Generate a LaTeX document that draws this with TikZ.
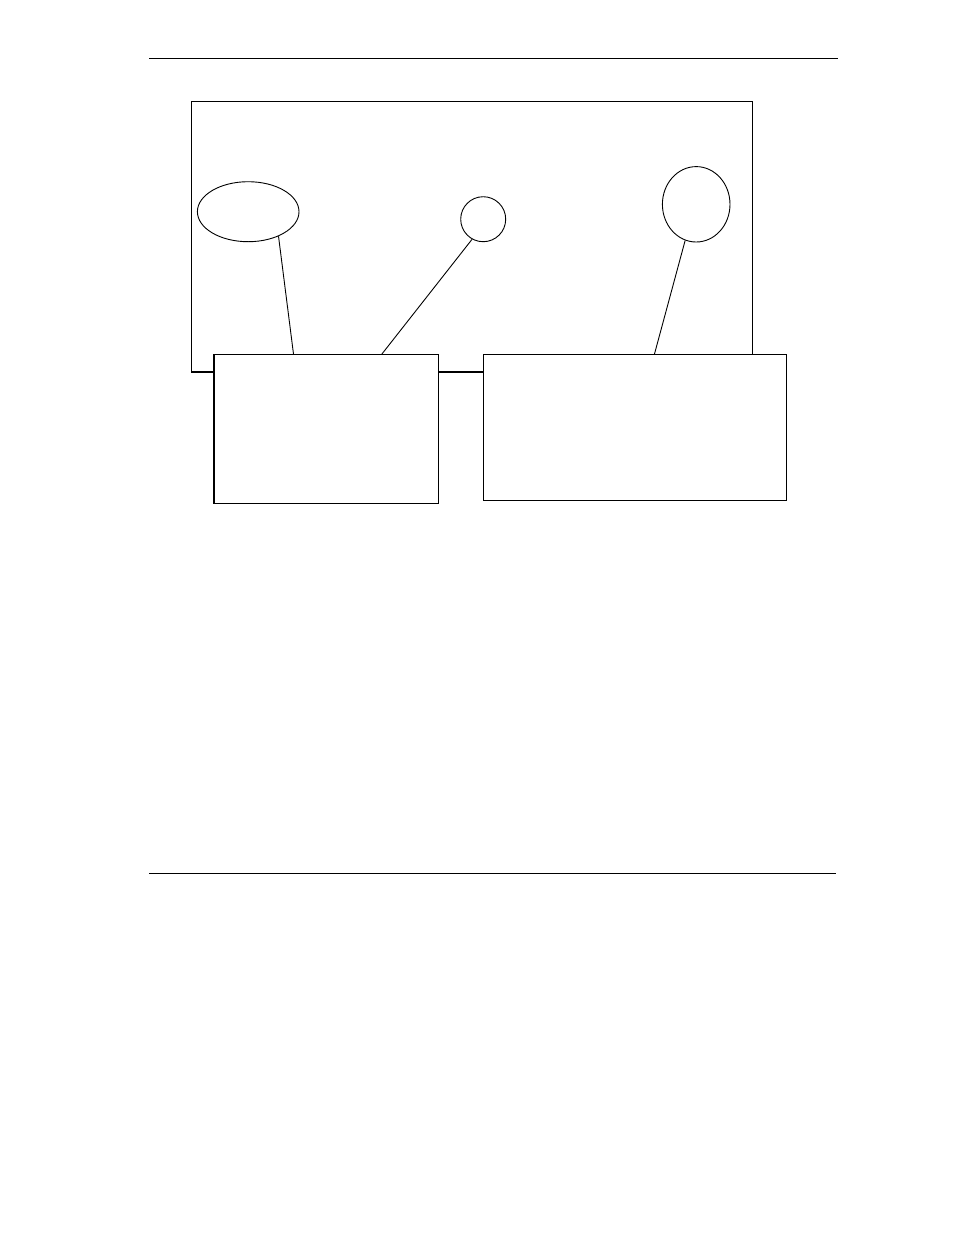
\documentclass[tikz,border=0pt]{standalone}
\usetikzlibrary{shapes.geometric,calc}
\begin{document}
\begin{tikzpicture}[x=1pt,y=-1pt,
  thin line/.style={line width=0.9pt},
  rule/.style={line width=1pt},
  bubble/.style={draw,thin line,ellipse,inner sep=0pt,fill=white},
  callout/.style={draw,thin line,rectangle,inner sep=0pt,fill=white,anchor=north west},
  leader/.style={thin line}]
\useasboundingbox (0,0) rectangle (954,1235);
% page rules
\coordinate (rtl) at (149,58.3);
\coordinate (rtr) at (838,58.3);
\coordinate (rbl) at (149,873.3);
\coordinate (rbr) at (836,873.3);
\draw[rule] (rtl) -- (rtr);
\draw[rule] (rbl) -- (rbr);
% frame
\node[draw,thin line,rectangle,inner sep=0pt,anchor=north west,minimum width=561pt,minimum height=269.4pt] (frame) at (191.3,101.3) {};
\draw[line width=1.8pt] (frame.south west) -- (frame.south east);
% bubbles
\node[bubble,minimum width=101.6pt,minimum height=60pt] (ell) at (248.2,211.7) {};
\node[bubble,minimum width=45pt,minimum height=45pt] (circ) at (483.2,219.2) {};
\node[bubble,minimum width=67.6pt,minimum height=75.4pt] (ellR) at (696.2,204.3) {};
% callout boxes
\node[callout,minimum width=224.6pt,minimum height=149pt] (boxL) at (213.7,354.3) {};
\draw[line width=1.8pt] (boxL.north west) -- (boxL.south west);
\node[callout,minimum width=303pt,minimum height=145.4pt] (boxR) at (483.3,354.3) {};
% leaders
\draw[leader] (ell.-39) -- ($(boxL.north west)!0.354!(boxL.north east)$);
\draw[leader] (circ.-119) -- ($(boxL.north west)!0.745!(boxL.north east)$);
\draw[leader] (ellR.-107) -- ($(boxR.north west)!0.563!(boxR.north east)$);
\end{tikzpicture}
\end{document}
